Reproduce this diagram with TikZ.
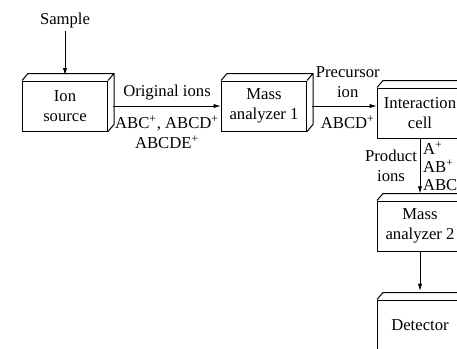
\documentclass[tikz,border=0pt]{standalone}
\usepackage{fontspec}
\setmainfont{Liberation Serif}
\usetikzlibrary{arrows.meta,calc}

\begin{document}
\begin{tikzpicture}[x=0.6pt,y=-0.6pt,>={Latex[length=4.5pt,width=2.6pt]},line width=0.6pt,
  unit/.style={draw,fill=white,minimum width=51pt,minimum height=30pt,align=center,inner sep=1pt},
  lbl/.style={align=center,inner sep=1.5pt}]
\useasboundingbox(0,0)rectangle(457,349);
\clip(0,0)rectangle(457,349);
\node[lbl](sample)at(65,20){Sample};
\node[unit](src)at(65,106){Ion\\source};
\node[unit](ma1)at(264,106){Mass\\analyzer 1};
\node[unit](cell)at(420,113){Interaction\\cell};
\node[unit](ma2)at(420,226){Mass\\analyzer 2};
\node[unit](det)at(420,325){Detector};
% top and side faces
\foreach \n in {src,ma1,cell,ma2,det}
  \draw(\n.north west)--++(6,-7)-|($(\n.south east)+(6,-7)$)--(\n.south east)
  (\n.north east)--++(6,-7);
\draw[->](sample)--([yshift=3pt]sample.south|-src.north);
\draw[->]([xshift=3pt]src.east)--(ma1.west)
  node[midway,above,lbl,yshift=2pt](orig){Original ions}
  node[midway,below,lbl,yshift=-4pt](orgions){ABC\textsuperscript{+}, ABCD\textsuperscript{+}\\ABCDE\textsuperscript{+}};
\draw[->]([xshift=3pt]ma1.east)--(ma1.east-|cell.west)
  node[pos=0.55,above,lbl,yshift=3pt](prec){Precursor\\ion}
  node[pos=0.55,below,lbl,yshift=-4pt](precion){ABCD\textsuperscript{+}};
\draw[->](cell.south)--([yshift=4pt]ma2.north)
  node[midway,left,lbl](prod){Product\\ions}
  node[midway,right,lbl,align=left,font={\fontsize{10}{11}\selectfont}](frag){A\textsuperscript{+}\\AB\textsuperscript{+}\\ABC\textsuperscript{+}};
\draw[->](ma2.south)--([yshift=5pt]det.north);
\end{tikzpicture}
\end{document}
